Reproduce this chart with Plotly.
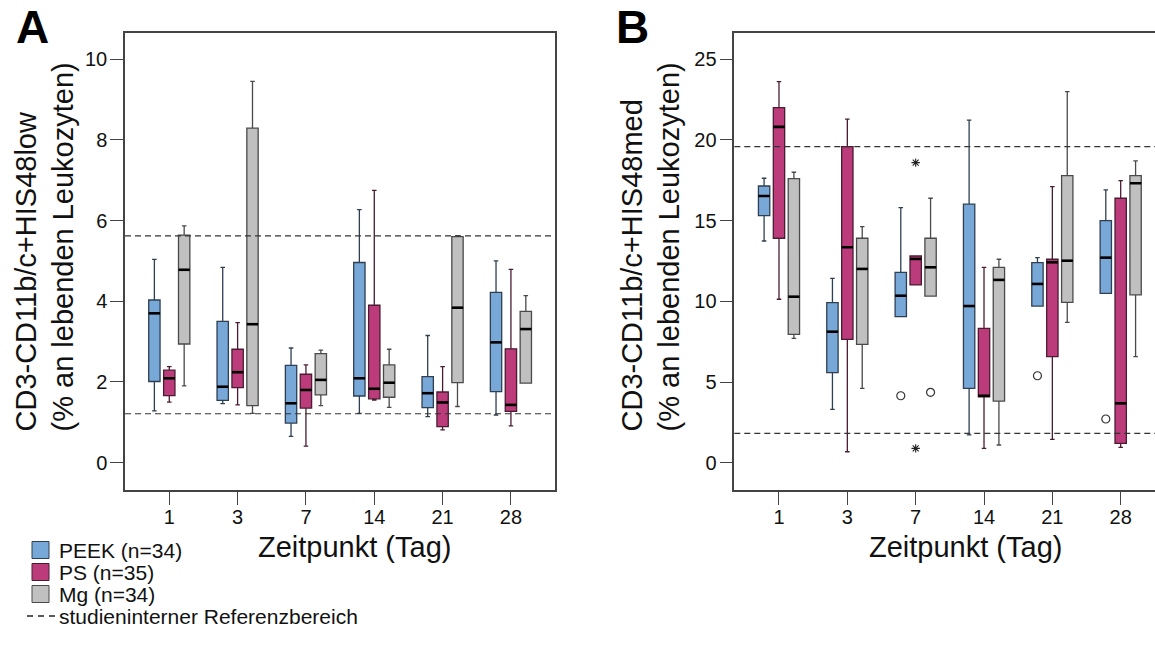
import plotly.graph_objects as go

# ---------------- data ----------------
days = ['1', '3', '7', '14', '21', '28']
series = ['PEEK', 'PS', 'Mg']
legend_labels = ['PEEK (n=34)', 'PS (n=35)', 'Mg (n=34)']
ref_label = 'studieninterner Referenzbereich'

# Panel A: CD3-CD11b/c+HIS48low
a_peek_lo = [1.28, 1.46, 0.65, 1.22, 1.14, 1.18]
a_peek_q1 = [2.01, 1.54, 0.98, 1.65, 1.36, 1.76]
a_peek_med = [3.70, 1.88, 1.47, 2.09, 1.72, 2.98]
a_peek_q3 = [4.03, 3.50, 2.41, 4.96, 2.13, 4.22]
a_peek_hi = [5.04, 4.84, 2.84, 6.27, 3.15, 5.00]

a_ps_lo = [1.50, 1.43, 0.41, 1.55, 0.81, 0.91]
a_ps_q1 = [1.66, 1.86, 1.35, 1.58, 0.89, 1.27]
a_ps_med = [2.09, 2.24, 1.80, 1.83, 1.49, 1.43]
a_ps_q3 = [2.29, 2.81, 2.19, 3.90, 1.75, 2.82]
a_ps_hi = [2.38, 3.47, 2.42, 6.75, 2.38, 4.79]

a_mg_lo = [1.90, 1.22, 1.41, 1.37, 1.39, 1.97]
a_mg_q1 = [2.94, 1.41, 1.68, 1.62, 1.98, 1.97]
a_mg_med = [4.78, 3.43, 2.05, 1.98, 3.84, 3.31]
a_mg_q3 = [5.64, 8.29, 2.70, 2.42, 5.60, 3.75]
a_mg_hi = [5.87, 9.45, 2.79, 2.81, 5.62, 4.14]

a_ref = [1.21, 5.62]

# Panel B: CD3-CD11b/c+HIS48med
b_peek_lo = [13.74, 3.31, 9.05, 1.72, 9.71, 10.50]
b_peek_q1 = [15.31, 5.58, 9.05, 4.61, 9.71, 10.50]
b_peek_med = [16.53, 8.12, 10.35, 9.71, 11.08, 12.71]
b_peek_q3 = [17.15, 9.92, 11.80, 16.02, 12.40, 15.00]
b_peek_hi = [17.63, 11.43, 15.81, 21.23, 12.71, 16.91]

b_ps_lo = [10.13, 0.68, 11.02, 0.89, 1.45, 0.95]
b_ps_q1 = [13.91, 7.65, 11.02, 4.08, 6.57, 1.20]
b_ps_med = [20.81, 13.35, 12.63, 4.15, 12.42, 3.68]
b_ps_q3 = [22.01, 19.59, 12.81, 8.33, 12.61, 16.39]
b_ps_hi = [23.62, 21.29, 12.81, 12.11, 17.11, 17.48]

b_mg_lo = [7.71, 4.61, 10.33, 1.10, 8.70, 6.57]
b_mg_q1 = [7.96, 7.34, 10.33, 3.82, 9.94, 10.40]
b_mg_med = [10.29, 12.01, 12.11, 11.33, 12.52, 17.32]
b_mg_q3 = [17.61, 13.91, 13.91, 12.11, 17.79, 17.79]
b_mg_hi = [18.00, 14.63, 16.39, 12.61, 23.00, 18.70]

b_ref = [1.82, 19.59]

# Panel B outliers (circles = mild, stars = extreme)
b_circle_day = ['7', '7', '21', '28']
b_circle_series = ['PEEK', 'Mg', 'PEEK', 'PEEK']
b_circle_val = [4.15, 4.36, 5.39, 2.71]
b_star_day = ['7', '7']
b_star_series = ['PS', 'PS']
b_star_val = [18.6, 0.89]

# ---------------- style ----------------
FONT = 'Liberation Sans, Arial, Helvetica, sans-serif'
fill = {'PEEK': '#78a8d8', 'PS': '#bc3c7b', 'Mg': '#c0c0c0'}
edge = {'PEEK': '#2e3f52', 'PS': '#4a1c32', 'Mg': '#4a4a4a'}
offset = {'PEEK': -0.218, 'PS': 0.0, 'Mg': 0.218}
BOX_W = 0.166
AXC = '#444444'
W, H = 1155, 646

panel_a = {
    'PEEK': (a_peek_lo, a_peek_q1, a_peek_med, a_peek_q3, a_peek_hi),
    'PS': (a_ps_lo, a_ps_q1, a_ps_med, a_ps_q3, a_ps_hi),
    'Mg': (a_mg_lo, a_mg_q1, a_mg_med, a_mg_q3, a_mg_hi),
}
panel_b = {
    'PEEK': (b_peek_lo, b_peek_q1, b_peek_med, b_peek_q3, b_peek_hi),
    'PS': (b_ps_lo, b_ps_q1, b_ps_med, b_ps_q3, b_ps_hi),
    'Mg': (b_mg_lo, b_mg_q1, b_mg_med, b_mg_q3, b_mg_hi),
}

fig = go.Figure()
day_idx = {d: i for i, d in enumerate(days)}


def add_panel(data, xa, ya):
    for s in series:
        lo, q1, med, q3, hi = data[s]
        xs = [day_idx[d] + offset[s] for d in days]
        fig.add_trace(go.Box(
            x=xs, q1=q1, median=med, q3=q3, lowerfence=lo, upperfence=hi,
            width=BOX_W, whiskerwidth=0.4, boxpoints=False,
            fillcolor=fill[s], line=dict(color=edge[s], width=1.3),
            name=s, showlegend=False, hoverinfo='skip',
            xaxis=xa, yaxis=ya))
        mx, my = [], []
        for x, m in zip(xs, med):
            mx += [x - BOX_W / 2, x + BOX_W / 2, None]
            my += [m, m, None]
        fig.add_trace(go.Scatter(
            x=mx, y=my, mode='lines', line=dict(color='black', width=2.6),
            showlegend=False, hoverinfo='skip', xaxis=xa, yaxis=ya))


add_panel(panel_a, 'x', 'y')
add_panel(panel_b, 'x2', 'y2')

fig.add_trace(go.Scatter(
    x=[day_idx[d] + offset[s] for d, s in zip(b_circle_day, b_circle_series)],
    y=b_circle_val, mode='markers',
    marker=dict(symbol='circle-open', size=8, color='#333', line=dict(width=1.2)),
    showlegend=False, hoverinfo='skip', xaxis='x2', yaxis='y2'))
fig.add_trace(go.Scatter(
    x=[day_idx[d] + offset[s] for d, s in zip(b_star_day, b_star_series)],
    y=b_star_val, mode='markers',
    marker=dict(symbol='asterisk-open', size=7, color='#222', line=dict(width=1.1, color='#222')),
    showlegend=False, hoverinfo='skip', xaxis='x2', yaxis='y2'))

# reference range lines
shapes = []
for v in a_ref:
    shapes.append(dict(type='line', xref='x domain', x0=0, x1=1, yref='y', y0=v, y1=v,
                       line=dict(color='#333', width=1.2, dash='6px,4px')))
for v in b_ref:
    shapes.append(dict(type='line', xref='x2 domain', x0=0, x1=1, yref='y2', y0=v, y1=v,
                       line=dict(color='#333', width=1.2, dash='6px,4px')))


def px(x):
    return x / W


def py(y):
    return 1 - y / H


ydom = [py(490), py(33)]
axis_common = dict(showgrid=False, zeroline=False, showline=True, linecolor=AXC, linewidth=1.5,
                   ticks='outside', ticklen=13, tickcolor=AXC, tickwidth=1.3,
                   tickfont=dict(family=FONT, size=20, color='#111'))

fig.update_layout(
    width=W, height=H, margin=dict(l=0, r=0, t=0, b=0),
    paper_bgcolor='white', plot_bgcolor='white',
    boxmode='overlay', showlegend=False,
    xaxis=dict(domain=[px(125), px(555)], range=[-0.648, 5.645],
               tickvals=list(range(len(days))), ticktext=days, mirror=True,
               anchor='y', ticklabelstandoff=-5, **axis_common),
    yaxis=dict(domain=ydom, range=[-0.68, 10.65], tickvals=[0, 2, 4, 6, 8, 10],
               mirror=True, anchor='x', ticklabelstandoff=-1, **axis_common),
    xaxis2=dict(domain=[px(734.3), 1.0], range=[-0.654, 5.502],
                tickvals=list(range(len(days))), ticktext=days, mirror=True,
                anchor='y2', ticklabelstandoff=-5, **axis_common),
    yaxis2=dict(domain=ydom, range=[-1.69, 26.63], tickvals=[0, 5, 10, 15, 20, 25],
                mirror=False, anchor='x2', ticklabelstandoff=-1, **axis_common),
    shapes=shapes,
)

ann = []
title_font = dict(family=FONT, size=29, color='#111')
# panel letters
ann.append(dict(text='<b>A</b>', x=px(14), y=py(27), xref='paper', yref='paper',
                xanchor='left', yanchor='middle', showarrow=False,
                font=dict(family=FONT, size=46, color='black')))
ann.append(dict(text='<b>B</b>', x=px(614), y=py(27), xref='paper', yref='paper',
                xanchor='left', yanchor='middle', showarrow=False,
                font=dict(family=FONT, size=46, color='black')))
# y titles
ann.append(dict(text='CD3-CD11b/c+HIS48low<br>(% an lebenden Leukozyten)',
                x=px(44), y=py(434), xref='paper', yref='paper', textangle=-90,
                xanchor='center', yanchor='bottom', align='left', showarrow=False,
                font=title_font))
ann.append(dict(text='CD3-CD11b/c+HIS48med<br>(% an lebenden Leukozyten)',
                x=px(650), y=py(434), xref='paper', yref='paper', textangle=-90,
                xanchor='center', yanchor='bottom', align='left', showarrow=False,
                font=title_font))
# x titles
ann.append(dict(text='Zeitpunkt (Tag)', x=px(355), y=py(547), xref='paper', yref='paper',
                xanchor='center', yanchor='middle', showarrow=False, font=title_font))
ann.append(dict(text='Zeitpunkt (Tag)', x=px(966), y=py(547), xref='paper', yref='paper',
                xanchor='center', yanchor='middle', showarrow=False, font=title_font))

# legend
leg_font = dict(family=FONT, size=21, color='#111')
row_y = [550, 572, 594]
for s, lab, yy in zip(series, legend_labels, row_y):
    shapes.append(dict(type='rect', xref='paper', yref='paper',
                       x0=px(32), x1=px(49), y0=py(yy + 8.5), y1=py(yy - 8.5),
                       fillcolor=fill[s], line=dict(color=edge[s], width=1)))
    ann.append(dict(text=lab, x=px(58), y=py(yy), xref='paper', yref='paper',
                    xanchor='left', yanchor='middle', showarrow=False, font=leg_font,
                    borderpad=0))
shapes.append(dict(type='line', xref='paper', yref='paper', x0=px(27), x1=px(55),
                   y0=py(616), y1=py(616), line=dict(color='#222', width=1.3, dash='6px,5px')))
ann.append(dict(text=ref_label, x=px(58), y=py(616), xref='paper', yref='paper',
                xanchor='left', yanchor='middle', showarrow=False, font=leg_font,
                borderpad=0))

fig.update_layout(annotations=ann, shapes=shapes)
fig.write_html('out.html')
